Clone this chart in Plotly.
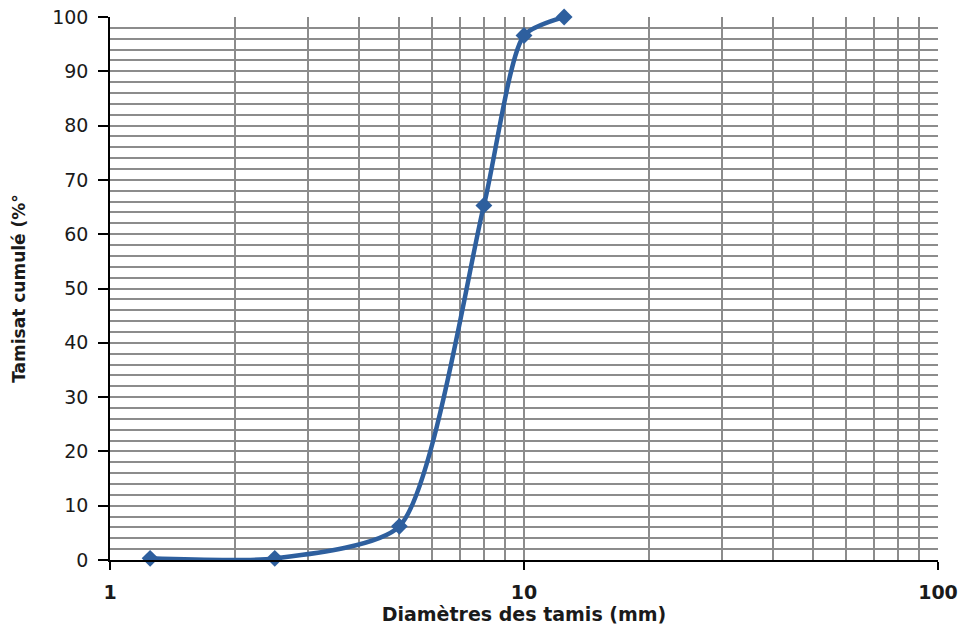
import plotly.graph_objects as go

# Sieve analysis: cumulative passing vs. sieve diameter
diametres = [1.25, 2.5, 5, 8, 10, 12.5]
tamisat = [0.3, 0.3, 6.2, 65.3, 96.6, 100]

x_ticks = [1, 10, 100]
x_minor = [2, 3, 4, 5, 6, 7, 8, 9, 20, 30, 40, 50, 60, 70, 80, 90]

line_color = "#2E5F9E"
grid_color = "#8C8C8C"

fig = go.Figure()
fig.add_trace(go.Scatter(
    x=diametres, y=tamisat,
    mode="lines+markers",
    line=dict(color=line_color, width=4.5, shape="spline", smoothing=0.65),
    marker=dict(symbol="diamond", size=13, color=line_color),
    cliponaxis=False,
    showlegend=False,
))

fig.update_layout(
    width=963, height=629,
    margin=dict(l=110, r=25, t=17, b=69),
    paper_bgcolor="white", plot_bgcolor="white",
    font=dict(family="DejaVu Sans", color="#1a1a1a"),
)

fig.update_xaxes(
    type="log", range=[0, 2], automargin=False,
    tickvals=x_ticks, ticktext=[str(v) for v in x_ticks],
    tickfont=dict(size=19, family="DejaVu Sans", weight="bold"),
    ticks="outside", ticklen=8, tickcolor="black", tickwidth=1.5,
    ticklabelstandoff=6,
    showline=True, linecolor="black", linewidth=1.5,
    showgrid=True, gridcolor=grid_color, gridwidth=1.5,
    minor=dict(tickvals=x_minor, showgrid=True, gridcolor=grid_color,
               gridwidth=1.5, ticks=""),
    title=dict(text="Diamètres des tamis (mm)", standoff=4,
               font=dict(size=19, family="DejaVu Sans", weight="bold")),
    zeroline=False,
)

fig.update_yaxes(
    range=[0, 100], dtick=10, automargin=False,
    tickfont=dict(size=19, family="DejaVu Sans"),
    ticks="outside", ticklen=10, tickcolor="black", tickwidth=1.5,
    ticklabelstandoff=6,
    showline=True, linecolor="black", linewidth=1.5,
    showgrid=True, gridcolor=grid_color, gridwidth=1.5,
    minor=dict(dtick=2, showgrid=True, gridcolor=grid_color,
               gridwidth=1.5, ticks=""),
    title=dict(text="Tamisat cumulé (%°", standoff=22,
               font=dict(size=17, family="DejaVu Sans", weight="bold")),
    zeroline=False,
)

fig.write_html("out.html")
